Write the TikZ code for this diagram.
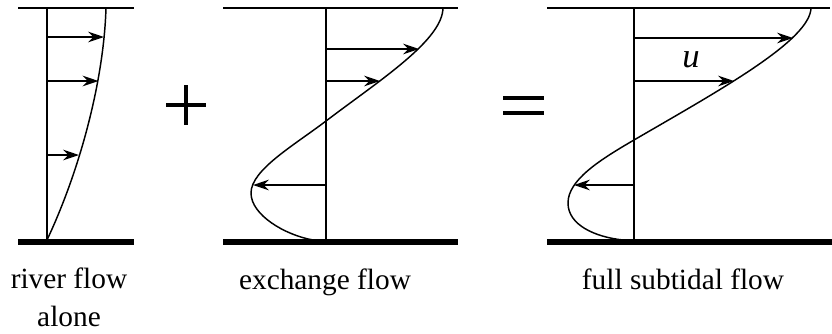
\documentclass[tikz,border=0pt]{standalone}
\usepackage{fontspec}
\setmainfont{Liberation Serif}
\usetikzlibrary{arrows.meta}
\begin{document}
\begin{tikzpicture}[x=0.75pt,y=-0.75pt,
  thinline/.style={line width=1.1pt},
  surface/.style={line width=1.5pt},
  bed/.style={line width=4.2pt},
  profile/.style={line width=1.1pt},
  vel/.style={line width=1.1pt,-{Stealth[length=12pt,width=8pt,inset=4pt]}},
  opsign/.style={line width=3pt},
  lbl/.style={font=\fontsize{22}{26}\selectfont, anchor=base, inner sep=0pt}]
\useasboundingbox (0,0) rectangle (832,333);

% ---------- panel 1: river flow alone
\draw[surface] (18,7.5) -- (134,7.5);
\draw[bed] (18,242) -- (134,242);
\coordinate (p1t) at (47,7.5);
\coordinate (p1b) at (47,240);
\draw[thinline] (p1t) -- (p1b);
\draw[profile] (106,7.5) .. controls (104,80) and (80,170) .. (47,240);
\coordinate (r1s) at (47,37);  \coordinate (r1e) at (104,37);
\coordinate (r2s) at (47,81);  \coordinate (r2e) at (98.5,81);
\coordinate (r3s) at (47,155); \coordinate (r3e) at (79,155);
\draw[vel] (r1s) -- (r1e);
\draw[vel] (r2s) -- (r2e);
\draw[vel] (r3s) -- (r3e);

% plus
\draw[opsign] (166,105) -- (206,105);
\draw[opsign] (186,85) -- (186,125);

% ---------- panel 2: exchange flow
\draw[surface] (223,7.5) -- (458,7.5);
\draw[bed] (223,242) -- (458,242);
\coordinate (p2t) at (326,7.5);
\coordinate (p2b) at (326,240);
\draw[thinline] (p2t) -- (p2b);
\draw[profile] (443,7.5) .. controls (443,40) and (380,80) .. (326,121)
  .. controls (293.6,145.6) and (251,170) .. (251,193)
  .. controls (251,215) and (285,235) .. (313,240);
\coordinate (e1s) at (326,49);  \coordinate (e1e) at (419,49);
\coordinate (e2s) at (326,81);  \coordinate (e2e) at (380,81);
\coordinate (e3s) at (326,185); \coordinate (e3e) at (253,185);
\draw[vel] (e1s) -- (e1e);
\draw[vel] (e2s) -- (e2e);
\draw[vel] (e3s) -- (e3e);

% equals
\draw[opsign] (503,97.5) -- (544,97.5);
\draw[opsign] (503,112.5) -- (544,112.5);

% ---------- panel 3: full subtidal flow
\draw[surface] (547,7.5) -- (830,7.5);
\draw[bed] (547,242) -- (832,242);
\coordinate (p3t) at (634,7.5);
\coordinate (p3b) at (634,240);
\draw[thinline] (p3t) -- (p3b);
\draw[profile] (811,7.5) .. controls (811,40) and (720,90) .. (634,140)
  .. controls (599.6,160) and (568,180) .. (568,203)
  .. controls (568,225) and (595,237) .. (623,240);
\coordinate (f1s) at (634,38);  \coordinate (f1e) at (793,38);
\coordinate (f2s) at (634,81);  \coordinate (f2e) at (734,81);
\coordinate (f3s) at (634,185); \coordinate (f3e) at (574,185);
\draw[vel] (f1s) -- (f1e);
\draw[vel] (f2s) -- (f2e);
\draw[vel] (f3s) -- (f3e);
\node[lbl, font=\fontsize{26}{30}\selectfont] (ulab) at (691,67) {\textit{u}};

% ---------- labels
\node[lbl] (lab1) at (69,288) {river flow};
\node[lbl] (lab1b) at (69,326) {alone};
\node[lbl] (lab2) at (325,289) {exchange flow};
\node[lbl] (lab3) at (683,289) {full subtidal flow};
\end{tikzpicture}
\end{document}
